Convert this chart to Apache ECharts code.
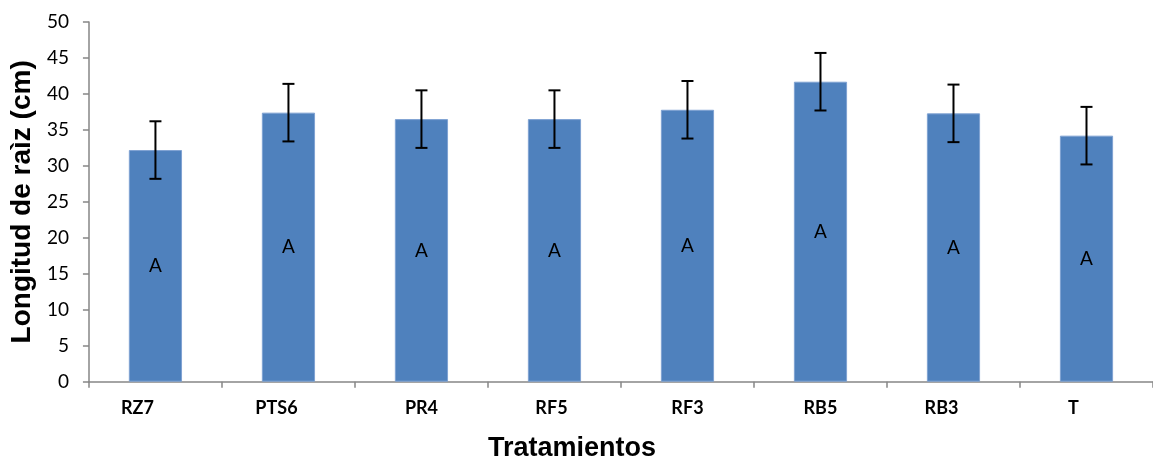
<!DOCTYPE html>
<html>
<head>
<meta charset="utf-8">
<script src="https://cdn.jsdelivr.net/npm/echarts@6/dist/echarts.min.js"></script>
<style>
html,body{margin:0;padding:0;background:#fff;}
#chart{width:1153px;height:459px;}
</style>
</head>
<body>
<div id="chart"></div>
<script>
const categories = ['RZ7', 'PTS6', 'PR4', 'RF5', 'RF3', 'RB5', 'RB3', 'T'];
const means = [32.2, 37.4, 36.5, 36.5, 37.8, 41.7, 37.3, 34.2];
const errors = [4.0, 4.0, 4.0, 4.0, 4.0, 4.0, 4.0, 4.0];
const letters = ['A', 'A', 'A', 'A', 'A', 'A', 'A', 'A'];
const yTicks = [0, 5, 10, 15, 20, 25, 30, 35, 40, 45, 50];
const labelNudge = [-18, -12, 0, -3, 0, 0, -12, -13];

const errData = means.map((m, i) => [i, m - errors[i], m + errors[i]]);

const chart = echarts.init(document.getElementById('chart'));
chart.setOption({
  animation: false,
  backgroundColor: '#fff',
  grid: { left: 87, top: 22, width: 1075, bottom: 77.3, containLabel: false },
  xAxis: {
    type: 'category',
    data: categories,
    boundaryGap: true,
    axisLine: { lineStyle: { color: '#868686', width: 1.5 } },
    axisTick: { show: true, length: 6, interval: 0, lineStyle: { color: '#868686', width: 1.5 } },
    axisLabel: {
      interval: 0,
      margin: 17,
      formatter: (v, i) => {
        const n = labelNudge[i] || 0;
        return n < 0 ? '{s' + (-n) + '|' + v + '}' : v;
      },
      rich: Object.fromEntries(labelNudge.filter(n => n < 0).map(n => ['s' + (-n), {
        padding: [0, -2 * n, 0, 0], fontFamily: 'Lato', fontWeight: 'bold', fontSize: 18, color: '#000'
      }])),
      fontFamily: 'Lato', fontWeight: 'bold', fontSize: 18, color: '#000'
    },
    splitLine: { show: false }
  },
  yAxis: {
    type: 'value',
    min: yTicks[0],
    max: yTicks[yTicks.length - 1],
    interval: yTicks[1] - yTicks[0],
    name: 'Longitud de raìz (cm)',
    nameLocation: 'middle',
    nameGap: 48,
    nameTextStyle: { fontFamily: 'Liberation Sans', fontWeight: 'bold', fontSize: 28, color: '#000' },
    axisLine: { show: true, lineStyle: { color: '#868686', width: 1.5 } },
    axisTick: { show: true, length: 6, lineStyle: { color: '#868686', width: 1.5 } },
    axisLabel: { margin: 20, fontFamily: 'Lato', fontSize: 19, color: '#000' },
    splitLine: { show: false }
  },
  graphic: [{
    type: 'text',
    left: 488,
    top: 435,
    style: { text: 'Tratamientos', font: 'bold 27px "Liberation Sans"', fill: '#000' }
  }],
  series: [{
    type: 'bar',
    data: means.map((m, i) => ({ value: m, label: { formatter: letters[i] } })),
    barCategoryGap: '60%',
    itemStyle: { color: '#4F81BD', borderColor: '#7FA2D2', borderWidth: 1 },
    label: { show: true, position: 'inside', fontFamily: 'Lato', fontSize: 19, color: '#000' },
    z: 2
  }, {
    type: 'custom',
    data: errData,
    z: 5,
    renderItem: (params, api) => {
      const x = api.value(0);
      const lo = api.coord([x, api.value(1)]);
      const hi = api.coord([x, api.value(2)]);
      const hw = 6;
      const st = { stroke: '#000', lineWidth: 2 };
      return {
        type: 'group',
        children: [
          { type: 'line', shape: { x1: hi[0], y1: hi[1], x2: lo[0], y2: lo[1] }, style: st },
          { type: 'line', shape: { x1: hi[0] - hw, y1: hi[1], x2: hi[0] + hw, y2: hi[1] }, style: st },
          { type: 'line', shape: { x1: lo[0] - hw, y1: lo[1], x2: lo[0] + hw, y2: lo[1] }, style: st }
        ]
      };
    }
  }]
});
</script>
</body>
</html>
